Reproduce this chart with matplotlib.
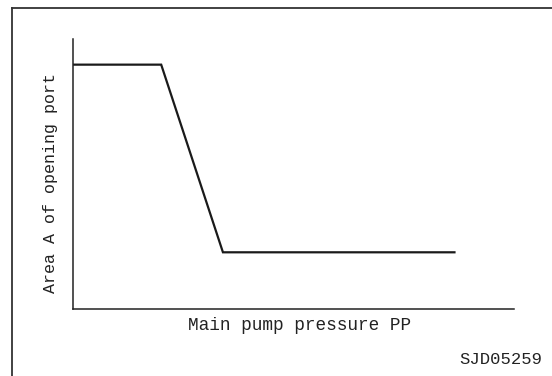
import matplotlib
matplotlib.use('Agg')
import matplotlib.pyplot as plt
from matplotlib.lines import Line2D

# curve: main pump pressure vs opening area (arbitrary units)
pressure = [0.0, 2.0, 3.4, 8.65]
area = [9.05, 9.05, 2.1, 2.1]

x_label = 'Main pump pressure PP'
y_label = 'Area A of opening port'
fig_code = 'SJD05259'

W, H = 552, 376
fig = plt.figure(figsize=(W / 100, H / 100), dpi=100)

# axes placed in pixel terms of the reference
left, right, top, bottom = 73, 514, 39, 309
ax = fig.add_axes([left / W, (H - bottom) / H, (right - left) / W, (bottom - top) / H])
ax.plot(pressure, area, color='#1a1a1a', lw=1.6, solid_joinstyle='miter')
ax.set_xlim(0, 10)
ax.set_ylim(0, 10)
ax.set_xticks([])
ax.set_yticks([])
for s in ['top', 'right']:
    ax.spines[s].set_visible(False)
for s in ['left', 'bottom']:
    ax.spines[s].set_linewidth(1.1)
    ax.spines[s].set_color('#222222')
ax.patch.set_alpha(0)

font = 'Liberation Mono'
fig.text(300 / W, 1 - 326 / H, x_label, ha='center', va='center',
         family=font, fontsize=12.8, color='#222222')
fig.text(51 / W, 1 - 183 / H, y_label, ha='center', va='center', rotation=90,
         family=font, fontsize=12, color='#222222')
fig.text(542 / W, 1 - 360 / H, fig_code, ha='right', va='center',
         family=font, fontsize=12.4, color='#222222')

# frame (only top and left edges visible in the crop)
fig.add_artist(Line2D([12 / W, 1], [1 - 8 / H, 1 - 8 / H], color='#333333', lw=1.3))
fig.add_artist(Line2D([12 / W, 12 / W], [0, 1 - 8 / H], color='#333333', lw=1.3))

fig.savefig('out.png', dpi=100)
